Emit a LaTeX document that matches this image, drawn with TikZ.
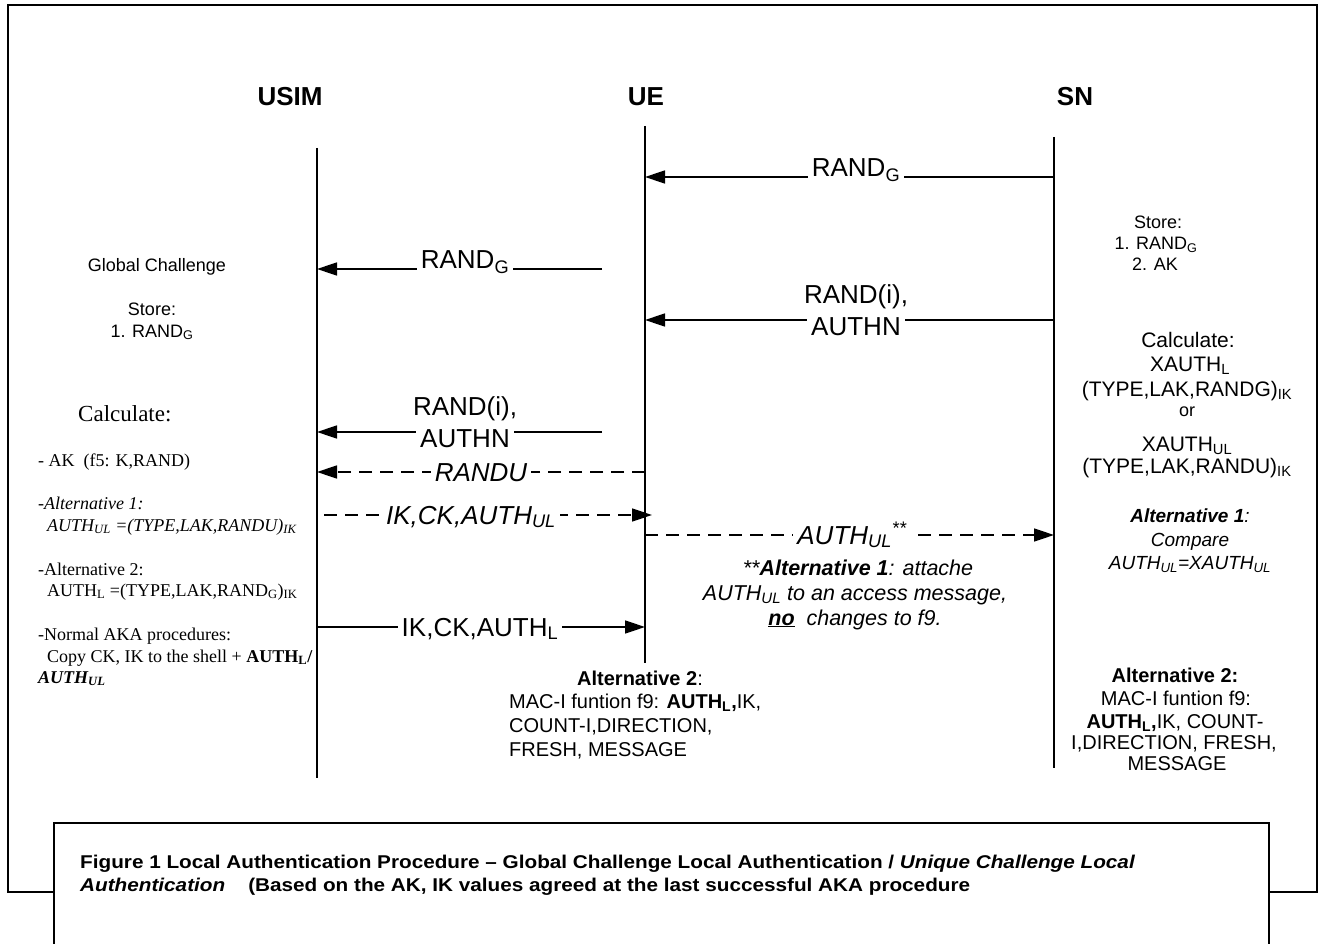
\documentclass[tikz,border=0pt]{standalone}
\usepackage{fontspec}
\setmainfont{Liberation Sans}
\newfontfamily\tnr{Liberation Serif}
\newfontfamily\capfont[FakeStretch=1.12]{Liberation Sans}
\usetikzlibrary{arrows.meta}
\newcommand\fsz[1]{\fontsize{#1}{#1}\selectfont}
\newcommand\dn[1]{\textsubscript{#1}}
\newcommand\up[1]{\textsuperscript{#1}}
\begin{document}
\begin{tikzpicture}[x=1pt,y=-1pt,
  life/.style={line width=1.5pt},
  msg/.style={line width=1.5pt,-{Triangle[length=20pt,width=13pt]}},
  dmsg/.style={msg,dash pattern=on 13pt off 8pt},
  lbl/.style={fill=white,inner xsep=4pt,inner ysep=1pt,font=\fsz{26}},
  hdr/.style={font=\bfseries\fsz{26}},
  ltxt/.style={anchor=base west,inner sep=0pt,font=\tnr\fsz{18}},
  rtxt/.style={anchor=base,inner sep=0pt,font=\fsz{20}},
  stxt/.style={anchor=base,inner sep=0pt,font=\fsz{18}},
  captxt/.style={anchor=base west,inner sep=0pt,font=\capfont\bfseries\fsz{18.5}}]
\useasboundingbox (0,0) rectangle (1323,944);
% outer frame
\draw[line width=2pt] (8,5) rectangle (1317,892);
% headers
\node[hdr,anchor=base] (husim) at (290,106) {USIM};
\node[hdr,anchor=base] (hue) at (646,106) {UE};
\node[hdr,anchor=base] (hsn) at (1075,106) {SN};
% lifelines
\coordinate (usimT) at (317,148); \coordinate (usimB) at (317,778);
\coordinate (ueT) at (645,126);   \coordinate (ueB) at (645,663);
\coordinate (snT) at (1054,137);  \coordinate (snB) at (1054,768);
\draw[life] (usimT) -- (usimB);
\draw[life] (ueT) -- (ueB);
\draw[life] (snT) -- (snB);
% message end points
\coordinate (m1s) at (1054,177); \coordinate (m1e) at (645,177);
\coordinate (m2s) at (602,269);  \coordinate (m2e) at (317,269);
\coordinate (m3s) at (1054,320); \coordinate (m3e) at (645,320);
\coordinate (m4s) at (602,432);  \coordinate (m4e) at (317,432);
\coordinate (m5s) at (645,472);  \coordinate (m5e) at (317,472);
\coordinate (m6s) at (324,515);  \coordinate (m6e) at (652,515);
\coordinate (m7s) at (645,535);  \coordinate (m7e) at (1054,535);
\coordinate (m8s) at (317,627);  \coordinate (m8e) at (645,627);
\draw[msg] (m1s) -- (m1e);
\draw[msg] (m2s) -- (m2e);
\draw[msg] (m3s) -- (m3e);
\draw[msg] (m4s) -- (m4e);
\draw[dmsg] (m5s) -- (m5e);
\draw[dmsg] (m6s) -- (m6e);
\draw[dmsg] (m7s) -- (m7e);
\draw[msg] (m8s) -- (m8e);
% message labels
\node[lbl,anchor=base] (l1) at (856,177) {RAND\dn{G}};
\node[lbl,anchor=base] (l2) at (465,269) {RAND\dn{G}};
\node[lbl,anchor=base] (l3a) at (856,303) {RAND(i),};
\node[lbl,anchor=base] (l3b) at (856,335) {AUTHN};
\node[lbl,anchor=base] (l4a) at (465,415) {RAND(i),};
\node[lbl,anchor=base] (l4b) at (465,447) {AUTHN};
\node[lbl,anchor=base,font=\itshape\fsz{26}] (l5) at (481,481) {RANDU};
\node[lbl,anchor=base,font=\itshape\fsz{26}] (l6) at (471,524) {IK,CK,AUTH\dn{UL}};
\node[lbl,anchor=base,font=\itshape\fsz{26}] (l7) at (852,544) {AUTH\dn{UL}\up{**}};
\node[lbl,anchor=base] (l8) at (480,636) {IK,CK,AUTH\dn{L}};
% note under AUTH_UL
\node[anchor=base,inner sep=0pt,font=\itshape\fsz{21.5}] (n1) at (858,575) {**\textbf{Alternative 1}: attache};
\node[anchor=base,inner sep=0pt,font=\itshape\fsz{21.5}] (n2) at (855,600) {AUTH\dn{UL} to an access message,};
\node[anchor=base,inner sep=0pt,font=\itshape\fsz{21.5}] (n3) at (855,625) {\underline{\textbf{no}}\ \ changes to f9.};
% USIM side text
\node[stxt] (gc) at (157,272) {Global Challenge};
\node[stxt] (us1) at (152,315) {Store:};
\node[stxt] (us2) at (152,337) {1. RAND\dn{G}};
\node[anchor=base west,inner sep=0pt,font=\tnr\fsz{23}] (uc) at (78,421) {Calculate:};
\node[ltxt] (ua1) at (38,466) {- AK\ \ (f5: K,RAND)};
\node[ltxt] (ua2) at (38,509) {\itshape -Alternative 1:};
\node[ltxt] (ua3) at (47,531) {\itshape AUTH\dn{UL} =(TYPE,LAK,RANDU)\dn{IK}};
\node[ltxt] (ua4) at (38,575) {-Alternative 2:};
\node[ltxt] (ua5) at (47,596) {AUTH\dn{L} =(TYPE,LAK,RAND\dn{G})\dn{IK}};
\node[ltxt] (ua6) at (38,640) {-Normal AKA procedures:};
\node[ltxt] (ua7) at (47,662) {Copy CK, IK to the shell + \textbf{AUTH\dn{L}/}};
\node[ltxt] (ua8) at (38,683) {\bfseries\itshape AUTH\dn{UL}};
% UE bottom text
\node[rtxt] (ue1) at (640,685) {\textbf{Alternative 2}:};
\node[anchor=base west,inner sep=0pt,font=\fsz{20}] (ue2) at (509,708) {MAC-I funtion f9: \textbf{AUTH\dn{L},}IK,};
\node[anchor=base west,inner sep=0pt,font=\fsz{20}] (ue3) at (509,732) {COUNT-I,DIRECTION,};
\node[anchor=base west,inner sep=0pt,font=\fsz{20}] (ue4) at (509,756) {FRESH, MESSAGE};
% SN side text
\node[stxt] (s1) at (1158,229) {Store:};
\node[stxt] (s2) at (1156,250) {1. RAND\dn{G}};
\node[stxt] (s3) at (1155,271) {2. AK};
\node[rtxt,font=\fsz{21}] (s4) at (1188,347) {Calculate:};
\node[rtxt,font=\fsz{21}] (s5) at (1190,371) {XAUTH\dn{L}};
\node[rtxt,font=\fsz{21}] (s6) at (1187,396) {(TYPE,LAK,RANDG)\dn{IK}};
\node[rtxt,font=\fsz{18}] (s7) at (1187,416) {or};
\node[rtxt,font=\fsz{21}] (s8) at (1187,451) {XAUTH\dn{UL}};
\node[rtxt,font=\fsz{21}] (s9) at (1187,473) {(TYPE,LAK,RANDU)\dn{IK}};
\node[rtxt,font=\itshape\fsz{19}] (s10) at (1190,522) {\textbf{Alternative 1}:};
\node[rtxt,font=\itshape\fsz{19}] (s11) at (1190,546) {Compare};
\node[rtxt,font=\itshape\fsz{19}] (s12) at (1190,569) {AUTH\dn{UL}=XAUTH\dn{UL}};
\node[rtxt] (s13) at (1175,682) {\textbf{Alternative 2:}};
\node[rtxt] (s14) at (1176,705) {MAC-I funtion f9:};
\node[rtxt] (s15) at (1175,728) {\textbf{AUTH\dn{L},}IK, COUNT-};
\node[rtxt] (s16) at (1174,749) {I,DIRECTION, FRESH,};
\node[rtxt] (s17) at (1177,770) {MESSAGE};
% caption box
\fill[white] (54,823) rectangle (1269,944);
\draw[line width=1.5pt] (54,944) -- (54,823) -- (1269,823) -- (1269,944);
\node[captxt] (c1) at (80,868) {Figure 1 Local Authentication Procedure – Global Challenge Local Authentication / \textit{Unique Challenge Local}};
\node[captxt] (c2) at (80,891) {\textit{Authentication}\ \ \ \ (Based on the AK, IK values agreed at the last successful AKA procedure};
\end{tikzpicture}
\end{document}
